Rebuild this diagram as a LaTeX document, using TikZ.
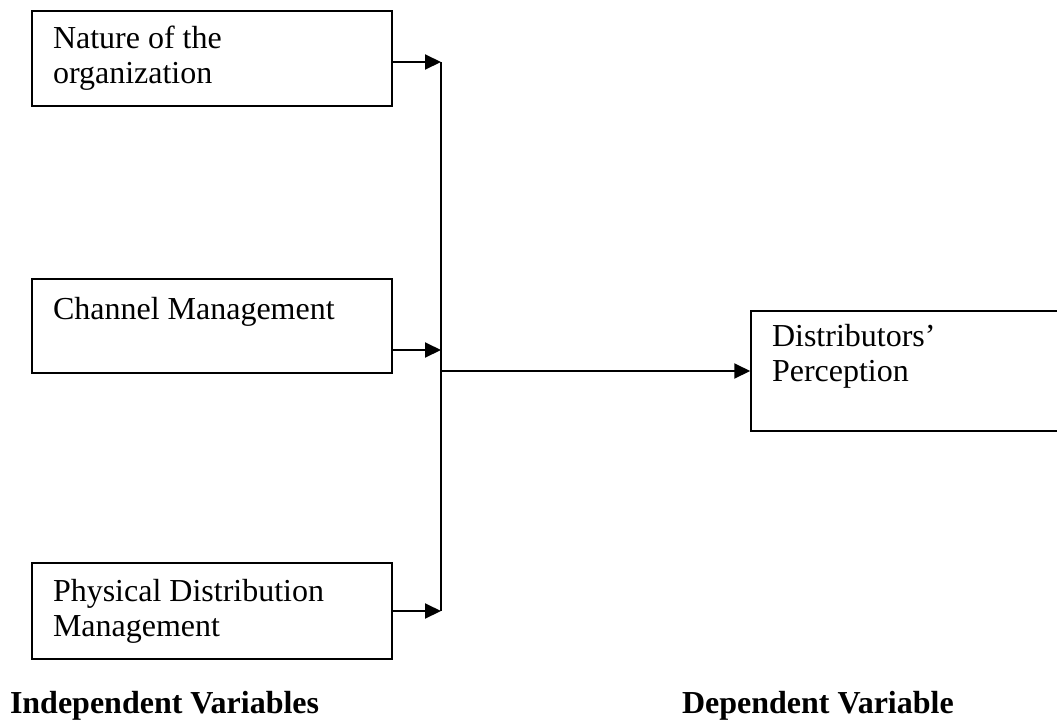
\documentclass[tikz,border=0pt]{standalone}
\usepackage{fontspec}
\setmainfont{Liberation Serif}
\usetikzlibrary{shapes, arrows.meta, positioning}
\tikzstyle{block} = [draw, fill=white, rectangle, line width=1.5pt, minimum width=360pt, minimum height=95pt, text width=318pt, inner xsep=21pt, inner ysep=0pt, align=flush left]
\tikzstyle{heading} = [font=\fontsize{32pt}{35pt}\selectfont\bfseries, anchor=base west, inner sep=0pt]

\begin{document}
\begin{tikzpicture}[x=1pt, y=-1pt, >={Triangle[length=16pt,width=15pt]}, line width=2pt, font=\fontsize{32pt}{35pt}\selectfont]
    \useasboundingbox (0,0) rectangle (1057,726);
    \node[block] (nature) at (212,58.5) {Nature of the\\organization};
    \node[block, minimum height=94pt, text depth=36pt] (channel) at (212,326) {Channel Management};
    \node[block, minimum height=96pt] (physical) at (212,611) {Physical Distribution\\Management};
    \node[block, minimum width=330pt, minimum height=120pt, text width=288pt, text depth=71pt] (percep) at (916,371) {Distributors'\\Perception};
    \coordinate (bus) at (441,0);
    \draw[->] ([yshift=-3.5pt]nature.east) -- ([yshift=-3.5pt]nature.east -| bus) coordinate (top);
    \draw[->] ([yshift=-24pt]channel.east) -- ([yshift=-24pt]channel.east -| bus);
    \draw[->] (physical.east) -- (physical.east -| bus) coordinate (bottom);
    \draw (top) -- (bottom);
    \draw[->] (percep.west -| bus) -- (percep.west);
    \node[heading] (indep) at (9,713) {Independent Variables};
    \node[heading] (dep) at (681,713) {Dependent Variable};
\end{tikzpicture}
\end{document}
